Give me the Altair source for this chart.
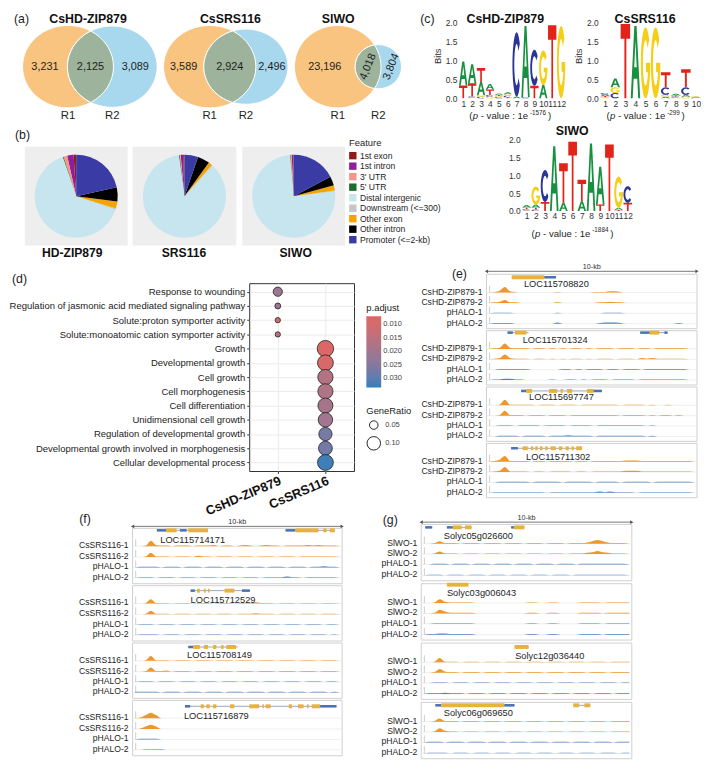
import math
import altair as alt
import pandas as pd

FONT = "Liberation Sans"
INK = "#1e1e1e"
DUMMY = pd.DataFrame({"k": [0]})

# ============================== DATA ==============================
# (a) Venn diagrams: peaks only in R1, shared, only in R2
VENN_TITLES = ["CsHD-ZIP879", "CsSRS116", "SlWO"]
VENN_ONLY_R1 = [3231, 3589, 23196]
VENN_SHARED = [2125, 2924, 4018]
VENN_ONLY_R2 = [3089, 2496, 3804]
VENN_SETS = ["R1", "R2"]
VENN_COLORS = ["#f8c47f", "#a8d8ee", "#9db39b"]

# (b) peak annotation (percent of peaks)
FEATURES = ["1st exon", "1st intron", "3' UTR", "5' UTR", "Distal intergenic",
            "Downstream (<=300)", "Other exon", "Other intron", "Promoter (<=2-kb)"]
FEATURE_COLORS = ["#8b1c1c", "#8d1e9c", "#f4968c", "#1c6d2f", "#c7e5ef",
                  "#c6c6c6", "#f5a300", "#000000", "#3b3ba6"]
PIE_TITLES = ["HD-ZIP879", "SRS116", "SlWO"]
PIE_HDZIP879 = [1.0, 2.5, 1.5, 0.3, 64.5, 0.4, 2.8, 5.5, 21.5]
PIE_SRS116 = [0.5, 1.0, 0.4, 0.3, 86.0, 0.3, 1.5, 4.7, 5.3]
PIE_SLWO = [0.2, 0.6, 0.5, 0.2, 75.4, 0.3, 2.0, 3.6, 17.2]

# (c) motif logos, information (bits) per base and position
LOGO1_A = [0.63, 0.50, 0.35, 0.15, 0.04, 0.05, 0.04, 1.88, 0.00, 0.35, 0.00, 0.00]
LOGO1_C = [0.00, 0.03, 0.04, 0.05, 0.03, 0.04, 1.70, 0.03, 0.95, 0.00, 0.00, 0.00]
LOGO1_G = [0.00, 0.02, 0.04, 0.04, 0.03, 0.04, 0.00, 0.00, 0.00, 0.91, 0.00, 1.91]
LOGO1_T = [0.34, 0.35, 0.37, 0.14, 0.03, 0.03, 0.00, 0.00, 0.33, 0.00, 1.93, 0.00]
LOGO2_A = [0.04, 0.23, 0.00, 1.91, 0.00, 0.00, 0.04, 0.04, 0.05, 0.02]
LOGO2_C = [0.04, 0.14, 0.00, 0.00, 0.00, 0.00, 0.20, 0.03, 0.20, 0.01]
LOGO2_G = [0.03, 0.15, 0.00, 0.00, 1.87, 1.87, 0.05, 0.02, 0.04, 0.02]
LOGO2_T = [0.03, 0.00, 1.96, 0.00, 0.00, 0.00, 0.40, 0.03, 0.48, 0.01]
LOGO3_A = [0.07, 0.08, 0.00, 1.80, 0.23, 0.00, 0.27, 1.88, 1.05, 0.00, 0.06, 0.00]
LOGO3_C = [0.03, 0.04, 0.89, 0.00, 0.00, 0.00, 0.00, 0.00, 0.00, 0.00, 0.00, 0.46]
LOGO3_G = [0.02, 0.50, 0.00, 0.00, 0.00, 0.00, 0.00, 0.00, 0.00, 0.00, 0.87, 0.00]
LOGO3_T = [0.05, 0.06, 0.25, 0.00, 1.10, 1.93, 0.60, 0.00, 0.18, 1.85, 0.03, 0.23]
LOGO_TITLES = ["CsHD-ZIP879", "CsSRS116", "SlWO"]
LOGO_P_EXP = ["-1576", "-299", "-1884"]
LETTER_COLORS = {"A": "#17913f", "C": "#2b3597", "G": "#f5cf15", "T": "#e2231a"}

# (d) GO enrichment
GO_TERMS = ["Response to wounding",
            "Regulation of jasmonic acid mediated signaling pathway",
            "Solute:proton symporter activity",
            "Solute:monoatomic cation symporter activity",
            "Growth", "Developmental growth", "Cell growth", "Cell morphogenesis",
            "Cell differentiation", "Unidimensional cell growth",
            "Regulation of developmental growth",
            "Developmental growth involved in morphogenesis",
            "Cellular developmental process"]
GO_GROUPS = ["CsHD-ZIP879", "CsSRS116"]
GO_GROUP = ["CsHD-ZIP879"] * 4 + ["CsSRS116"] * 9
GO_GENE_RATIO = [0.056, 0.033, 0.030, 0.030, 0.140, 0.131, 0.123, 0.122,
                 0.120, 0.112, 0.097, 0.104, 0.131]
GO_PADJ = [0.0210, 0.0215, 0.0105, 0.0160, 0.0078, 0.0088, 0.0165, 0.0175,
           0.0190, 0.0200, 0.0270, 0.0275, 0.0325]
PADJ_TICKS = [0.010, 0.015, 0.020, 0.025, 0.030]
RATIO_TICKS = [0.05, 0.10]

# (e)-(g) genome browser views (10-kb windows)
TRACKS_E = ["CsHD-ZIP879-1", "CsHD-ZIP879-2", "pHALO-1", "pHALO-2"]
TRACKS_F = ["CsSRS116-1", "CsSRS116-2", "pHALO-1", "pHALO-2"]
TRACKS_G = ["SlWO-1", "SlWO-2", "pHALO-1", "pHALO-2"]

GENES_E = [
    [(1.20, 3.30, [(1.20, 2.75, "cds"), (2.75, 3.30, "utr")])],
    [(1.00, 2.00, [(1.00, 1.25, "utr"), (1.35, 1.90, "cds")]),
     (7.30, 8.60, [(7.30, 7.75, "utr"), (7.75, 8.20, "cds"), (8.45, 8.60, "utr")])],
    [(1.64, 5.48, [(1.64, 1.88, "utr"), (1.88, 2.16, "cds"), (2.97, 3.36, "cds"),
                   (3.52, 3.63, "cds"), (3.83, 4.07, "cds"), (4.77, 5.09, "cds"),
                   (5.09, 5.48, "utr")])],
    [(1.17, 4.54, [(1.17, 1.49, "utr"), (1.72, 1.96, "cds"), (2.11, 2.22, "cds"),
                   (2.32, 2.43, "cds"), (2.54, 2.66, "cds"), (2.79, 2.90, "cds"),
                   (3.05, 3.29, "cds"), (3.44, 3.60, "cds"), (3.76, 3.91, "cds"),
                   (4.04, 4.15, "cds"), (4.26, 4.54, "cds")])],
]
GENE_LABELS_E = [("LOC115708820", 1.78), ("LOC115701324", 1.72),
                 ("LOC115697747", 2.02), ("LOC115711302", 1.88)]

GENES_F = [
    [(1.16, 3.60, [(1.16, 1.60, "utr"), (1.60, 2.10, "cds"), (2.26, 2.58, "utr"), (2.66, 3.60, "cds")]),
     (7.30, 9.65, [(7.30, 7.77, "utr"), (7.77, 8.87, "cds"), (9.10, 9.26, "cds"), (9.41, 9.65, "cds")])],
    [(2.77, 5.60, [(2.77, 2.97, "utr"), (3.08, 3.21, "cds"), (3.40, 3.49, "cds"),
                   (3.60, 3.68, "cds"), (4.39, 4.86, "cds"), (5.22, 5.60, "utr")])],
    [(2.66, 5.02, [(2.66, 2.89, "utr"), (2.89, 3.21, "cds"), (3.40, 3.60, "cds"),
                   (3.84, 4.00, "cds"), (4.23, 4.34, "cds"), (4.47, 4.94, "cds")])],
    [(2.50, 9.73, [(2.50, 2.75, "utr"), (3.25, 3.40, "cds"), (3.52, 3.68, "cds"),
                   (3.84, 4.00, "cds"), (4.65, 4.86, "cds"), (5.57, 6.04, "cds"),
                   (6.20, 6.27, "cds"), (6.35, 6.59, "cds"), (7.45, 7.61, "cds"),
                   (7.89, 8.16, "cds"), (8.32, 8.40, "cds"), (8.55, 8.95, "cds"),
                   (8.95, 9.73, "utr")])],
]
GENE_LABELS_F = [("LOC115714171", 1.32), ("LOC115712529", 2.77),
                 ("LOC115708149", 2.60), ("LOC115716879", 2.45)]

GENES_G = [
    [(0.19, 0.52, [(0.19, 0.52, "utr")]),
     (1.22, 2.39, [(1.22, 1.50, "utr"), (1.50, 1.92, "cds"), (2.08, 2.39, "cds")]),
     (4.27, 4.90, [(4.27, 4.40, "utr"), (4.40, 4.90, "cds")])],
    [(1.22, 2.24, [(1.22, 2.24, "cds")])],
    [(4.43, 5.10, [(4.43, 5.10, "cds")])],
    [(0.67, 4.43, [(0.67, 0.95, "utr"), (0.95, 3.95, "cds"), (3.95, 4.43, "utr")]),
     (7.22, 8.03, [(7.22, 7.50, "cds"), (7.75, 8.03, "cds")])],
]
GENE_LABELS_G = [("Solyc05g026600", 1.07), ("Solyc03g006043", 1.22),
                 ("Solyc12g036440", 4.46), ("Solyc06g069650", 1.07)]

# coverage level per 0.25-kb bin (0-9), one string per track
SIGNAL_E = [
    ["0139210000000100000011122100000000000000",
     "0125110000000100000001121100000000000000",
     "0111100000000100000000111100000000000000",
     "0111100000000200000001222100000000001000"],
    ["0129211101101010110101110111011011111100",
     "0128211101101010110101110111021211111100",
     "0011111100000011010111011011101111111100",
     "0112211000001001101011101111011111111100"],
    ["0019111110111011101111111011110100100000",
     "0018111011101110111111111011110101101000",
     "0011101111011110111101111111110100000000",
     "0011110111101112111101111111110100000000"],
    ["0139111101101111011011111122211111111110",
     "0128111101101111011011111122211111111110",
     "0011111101111101111101111011111011111110",
     "0111111111101111111112121111011111111110"],
]
SIGNAL_F = [
    ["0019211011101112011012101211011112121110",
     "0017111011102110111011101110111011111110",
     "0111101110111011101110111011101110112110",
     "0111011101110111011101110111121101111110"],
    ["0017111011101110111011121110111011101110",
     "0016111011101110111011121110111011101110",
     "0111011101110111011101110111011101110110",
     "0111101110111011101110111011101110111010"],
    ["0018111011101110111011101110111011101110",
     "0017112011101110111011101110111011101110",
     "0111011101110111011101110111011101110110",
     "1111101110111011101110111011101110111010"],
    ["0159500000000000000000000000000000000000",
     "0147400000000000000000000000000000000000",
     "0111100000000000000000000000000000000000",
     "0011110000000000000000000000000000000000"],
]
SIGNAL_G = [
    ["0014111011101110111011101110111246421110",
     "0014111011101110111011101110111235321110",
     "0011101110111011101110111011101111111110",
     "0111011101110111011101110111011111111110"],
    ["0016211111000000000011001100001111011111",
     "0016311111000000000011001100001111011111",
     "0011111111000000000011001100001111011111",
     "0112211111000000000011001100001111011111"],
    ["0017111011101110111011101110111011101111",
     "0016211011101110111011101110111011101111",
     "0011101110111011101110111011101110111011",
     "0111211101110111011101110111011101110111"],
    ["0015111011101110111011101110111011101111",
     "0016211011101110111011101110111011101111",
     "0111011101110111011101110111011101110111",
     "0111101110111011101110111011101110111011"],
]

# ============================== LAYOUT GRID ==============================
# column left edges (page px); every panel is anchored at one of them
COL_EDGES = [8, 23, 132, 250, 462, 526, 605, 707]
COL_W = [COL_EDGES[i + 1] - COL_EDGES[i] for i in range(len(COL_EDGES) - 1)]
ROW_H = [122, 151, 231, 246]

# ============================== HELPERS ==============================
def T(s, x, y, fs, weight="normal", style="normal", align="center",
      baseline="middle", color=INK, angle=0):
    kw = dict(fontSize=fs, fontWeight=weight, fontStyle=style, align=align,
              baseline=baseline, color=color, font=FONT)
    if angle:
        kw["angle"] = angle
    return alt.Chart(DUMMY).mark_text(**kw).encode(
        x=alt.value(x), y=alt.value(y), text=alt.value(s))


def SP(w, h):
    return alt.Chart(DUMMY).mark_point(opacity=0, size=1).encode(
        x=alt.value(0), y=alt.value(0)).properties(width=w, height=h)


ARIAL_W = {"(": 333, ")": 333, "p": 556, " ": 278, "-": 333, "v": 500,
           "a": 556, "l": 222, "u": 556, "e": 556, ":": 278}


def tw(s, fs):
    return sum(ARIAL_W.get(c, 556) for c in s) * fs / 1000.0


def pvalue_marks(cx, cy, exp, fs=9.7):
    sfs = fs * 0.66
    parts = [("(", "normal", fs, 0.0, 0.3),
             ("p", "italic", fs, 0.0, tw(" ", fs)),
             ("- value : 1e", "normal", fs, 0.0, 1.8),
             (exp, "normal", sfs, -3.6, 1.8),
             (")", "normal", fs, 0.0, 0.0)]
    total = sum(tw(t, f) + g for t, _, f, _, g in parts)
    x = cx - total / 2
    out = []
    for t, st, f, dy, g in parts:
        out.append(T(t, x, cy + dy, f, style=st, align="left"))
        x += tw(t, f) + g
    return out


def arc_pts(cx, cy, rx, ry, a0, a1, step=10):
    n = max(1, int(abs(a1 - a0) / step))
    pts = []
    for j in range(n + 1):
        a = math.radians(a0 + (a1 - a0) * j / n)
        pts.append((cx + rx * math.cos(a), cy + ry * math.sin(a)))
    return pts


GLYPHS = {
    "T": [[(0, 1), (1, 1), (1, 0.8), (0.6, 0.8), (0.6, 0), (0.4, 0), (0.4, 0.8), (0, 0.8)]],
    "A": [[(0, 0), (0.38, 1), (0.62, 1), (1, 0), (0.79, 0), (0.69, 0.27), (0.31, 0.27), (0.21, 0)],
          [(0.37, 0.43), (0.63, 0.43), (0.5, 0.8)]],
    "C": [arc_pts(0.5, 0.5, 0.5, 0.5, 40, 320) + arc_pts(0.5, 0.5, 0.28, 0.32, 320, 40)],
    "G": [arc_pts(0.5, 0.5, 0.5, 0.5, 40, 360) + [(0.55, 0.5), (0.55, 0.37)]
          + arc_pts(0.5, 0.5, 0.28, 0.32, 335, 40)],
}


def glyph_path(letter, w, h):
    D = max(w, h)
    parts = []
    for poly in GLYPHS[letter]:
        pts = [((u - 0.5) * w * 2 / D, -(v - 0.5) * h * 2 / D) for u, v in poly]
        parts.append("M" + "L".join(f"{x:.3f},{y:.3f}" for x, y in pts) + "Z")
    return "".join(parts), D * D


def lens_area(r1, r2, d):
    if d >= r1 + r2:
        return 0.0
    if d <= abs(r1 - r2):
        return math.pi * min(r1, r2) ** 2
    a1 = math.acos((d * d + r1 * r1 - r2 * r2) / (2 * d * r1))
    a2 = math.acos((d * d + r2 * r2 - r1 * r1) / (2 * d * r2))
    return (r1 * r1 * a1 + r2 * r2 * a2
            - 0.5 * math.sqrt((-d + r1 + r2) * (d + r1 - r2) * (d - r1 + r2) * (d + r1 + r2)))


def solve_d(r1, r2, target):
    lo, hi = abs(r1 - r2), r1 + r2
    for _ in range(80):
        mid = (lo + hi) / 2
        if lens_area(r1, r2, mid) > target:
            lo = mid
        else:
            hi = mid
    return (lo + hi) / 2


def ellipse_path(r, k):
    return (f"M{-r:.4f},0A{r:.4f},{r*k:.4f} 0 1,0 {r:.4f},0"
            f"A{r:.4f},{r*k:.4f} 0 1,0 {-r:.4f},0Z")


# ============================== PANEL (a) ==============================
VENN_SY = 41.7
VENN_H = ROW_H[0]
VENN_CY = 54
VENN_RY = (VENN_CY - 104) / VENN_SY
# (grid column, circle-1 centre page x, px per unit in x, title centre page x)
VENN_LAYOUT = [(0, 66.7, 46.0, 87), (2, 210.0, 46.7, 231), (3, 339.5, 43.8, 340)]


def venn_view(i):
    col, cx_page, sx, title_page = VENN_LAYOUT[i]
    origin, w = COL_EDGES[col], COL_W[col]
    cxp = cx_page - origin
    only1, shared, only2 = VENN_ONLY_R1[i], VENN_SHARED[i], VENN_ONLY_R2[i]
    n1, n2 = only1 + shared, only2 + shared
    r2 = math.sqrt(n2 / n1)
    d = solve_d(1.0, r2, math.pi * shared / n1)
    k = VENN_SY / sx
    xi = (d * d + 1 - r2 * r2) / (2 * d)
    hh = math.sqrt(max(0.0, 1 - xi * xi))
    lens = (f"M{xi:.4f},{-hh*k:.4f}A{r2:.4f},{r2*k:.4f} 0 0,0 {xi:.4f},{hh*k:.4f}"
            f"A1,{k:.4f} 0 0,0 {xi:.4f},{-hh*k:.4f}Z")
    shp = pd.DataFrame({"x": [0.0, d, 0.0], "y": [0.0, 0.0, 0.0],
                        "path": [ellipse_path(1.0, k), ellipse_path(r2, k), lens],
                        "col": VENN_COLORS, "z": [0, 1, 2]})
    xs = alt.Scale(domain=[-cxp / sx, (w - cxp) / sx], nice=False, zero=False)
    ys = alt.Scale(domain=[-(VENN_H - VENN_CY) / VENN_SY, VENN_CY / VENN_SY], nice=False, zero=False)
    X = alt.X("x:Q", scale=xs, axis=None)
    Y = alt.Y("y:Q", scale=ys, axis=None)
    layers = [alt.Chart(shp).mark_point(filled=True, opacity=1, size=(2 * sx) ** 2,
                                        stroke="white", strokeWidth=1).encode(
        x=X, y=Y, shape=alt.Shape("path:N", scale=None),
        color=alt.Color("col:N", scale=None), order=alt.Order("z:Q"))]
    xo1 = (-1 + (d - r2)) / 2
    xsh = ((d - r2) + 1) / 2
    xo2 = (1 + d + r2) / 2
    nums = pd.DataFrame({"x": [xo1, xsh, xo2], "y": [0.0, 0.0, 0.0],
                         "t": [f"{only1:,}", f"{shared:,}", f"{only2:,}"]})
    if i == 2:
        flat, rot = nums.iloc[:1], nums.iloc[1:]
    else:
        flat, rot = nums, None
    layers.append(alt.Chart(flat).mark_text(fontSize=11, color=INK, font=FONT).encode(
        x=X, y=Y, text="t:N"))
    if rot is not None:
        layers.append(alt.Chart(rot).mark_text(fontSize=11, color=INK, font=FONT, angle=292).encode(
            x=X, y=Y, text="t:N"))
    sets = pd.DataFrame({"x": [0.0, d], "y": [VENN_RY, VENN_RY], "t": VENN_SETS})
    layers.append(alt.Chart(sets).mark_text(fontSize=11.5, color=INK, font=FONT).encode(
        x=X, y=Y, text="t:N"))
    layers.append(T(VENN_TITLES[i], title_page - origin, 0, 12.5, weight="bold",
                    baseline="top", color="#111"))
    if i == 0:
        layers.append(T("(a)", 12 - origin, 0, 12.5, align="left", baseline="top"))
    return alt.layer(*layers).properties(width=w, height=VENN_H)


# ============================== PANEL (c) ==============================
def logo_view(A, C, G, TT, step, ppb, height, decl_w, bits_title, extras):
    rows = []
    for i in range(len(A)):
        stack = sorted([(A[i], "A"), (C[i], "C"), (G[i], "G"), (TT[i], "T")])
        cum = 0.0
        for hgt, letter in stack:
            if hgt <= 0:
                continue
            path, size = glyph_path(letter, step * 0.94, hgt * ppb)
            rows.append({"pos": i + 1, "ymid": cum + hgt / 2, "path": path,
                         "size": size, "col": LETTER_COLORS[letter]})
            cum += hgt
    df = pd.DataFrame(rows)
    yax = dict(values=[0, 0.5, 1, 1.5, 2], format=".1f", ticks=False, domain=False,
               grid=False, labelFontSize=8.5, labelPadding=2, labelColor="#333",
               titleFontSize=9.5, titleFontWeight="normal", titlePadding=3,
               titleColor="#333", title=bits_title)
    letters = alt.Chart(df).mark_point(filled=True, opacity=1, strokeWidth=0).encode(
        x=alt.X("pos:O", scale=alt.Scale(range=[0, step * len(A)]),
                axis=alt.Axis(title=None, labelAngle=0, ticks=False, domain=False,
                              labelFontSize=8.5, labelPadding=1, labelColor="#333",
                              labelOverlap=False)),
        y=alt.Y("ymid:Q", scale=alt.Scale(domain=[0, height / ppb], nice=False, zero=False),
                axis=alt.Axis(**yax)),
        shape=alt.Shape("path:N", scale=None),
        size=alt.Size("size:Q", scale=None),
        color=alt.Color("col:N", scale=None))
    return alt.layer(letters, *extras).properties(width=decl_w, height=height)


logo1 = logo_view(LOGO1_A, LOGO1_C, LOGO1_G, LOGO1_T, 9.0, 38.35, 86, COL_W[4], "Bits",
                  [T(LOGO_TITLES[0], 47, 0, 12.5, weight="bold", baseline="top", color="#111"),
                   T("(c)", -39, 0, 12.5, align="left", baseline="top")]
                  + pvalue_marks(52, 104, LOGO_P_EXP[0]))
logo2 = logo_view(LOGO2_A, LOGO2_C, LOGO2_G, LOGO2_T, 10.2, 38.35, 86, COL_W[6], "Bits",
                  [T(LOGO_TITLES[1], 45.5, 0, 12.5, weight="bold", baseline="top", color="#111")]
                  + pvalue_marks(46, 104, LOGO_P_EXP[1]))
logo3 = logo_view(LOGO3_A, LOGO3_C, LOGO3_G, LOGO3_T, 9.3, 36.35, 78, COL_W[5], None,
                  [T(LOGO_TITLES[2], 50.7, -3, 12.5, weight="bold", color="#111")]
                  + pvalue_marks(51, 101, LOGO_P_EXP[2]))


# ============================== PANEL (b) ==============================
def pie_view(values, col, panel_left, panel_w, title, title_page, extra=()):
    origin = COL_EDGES[col]
    off = panel_left - origin
    df = pd.DataFrame({"feature": FEATURES, "val": values,
                       "rank": [len(FEATURES) - 1 - j for j in range(len(FEATURES))]})
    bg = alt.Chart(DUMMY).mark_rect(color="#eeeeee").encode(
        x=alt.value(off), x2=alt.value(off + panel_w), y=alt.value(13), y2=alt.value(113))
    arc = alt.Chart(df).mark_arc(radius=42).encode(
        theta=alt.Theta("val:Q", stack=True),
        color=alt.Color("feature:N", scale=alt.Scale(domain=FEATURES, range=FEATURE_COLORS), legend=None),
        order=alt.Order("rank:Q", sort="ascending"),
        x=alt.value(off + panel_w / 2), y=alt.value(63))
    ttl = T(title, title_page - origin, 121, 12.3, weight="bold", color="#111")
    return alt.layer(bg, arc, ttl, *extra).properties(width=COL_W[col], height=113)


pie1 = pie_view(PIE_HDZIP879, 0, 23, 104, PIE_TITLES[0], 71,
                [T("(b)", 13 - COL_EDGES[0], 1, 12.5, align="left")])
pie2 = pie_view(PIE_SRS116, 1, 132, 105, PIE_TITLES[1], 184)
pie3 = pie_view(PIE_SLWO, 2, 243, 104, PIE_TITLES[2], 297)

LEG_OFF = 351 - COL_EDGES[3]
leg_df = pd.DataFrame({"feature": FEATURES, "col": FEATURE_COLORS})
leg_y = alt.Y("feature:N", sort=FEATURES, axis=None,
              scale=alt.Scale(range=[22, 107], padding=0))
legend_b = alt.layer(
    alt.Chart(leg_df).mark_square(size=56, opacity=1).encode(
        x=alt.value(LEG_OFF + 3.8), y=leg_y, color=alt.Color("col:N", scale=None)),
    alt.Chart(leg_df).mark_text(align="left", baseline="middle", fontSize=8.7,
                                color=INK, font=FONT).encode(
        x=alt.value(LEG_OFF + 11), y=leg_y, text="feature:N"),
    T("Feature", LEG_OFF, 9.3, 9.5, align="left"),
).properties(width=COL_W[3], height=113)

# ============================== PANEL (d) ==============================
go_df = pd.DataFrame({"term": GO_TERMS, "group": GO_GROUP,
                      "ratio": GO_GENE_RATIO, "padj": GO_PADJ})
go_df["npadj"] = -go_df["padj"]   # low p.adjust on top of the colour bar
dots = alt.Chart(go_df).mark_circle(opacity=1, stroke="#222222", strokeWidth=0.8).encode(
    x=alt.X("group:N", sort=GO_GROUPS, scale=alt.Scale(padding=0.6),
            axis=alt.Axis(title=None, labelAngle=337, labelAlign="right", labelBaseline="top",
                          labelFontSize=13, labelFontWeight="bold", labelColor="#111",
                          tickColor="#333", tickSize=2.5, domain=False, grid=True,
                          gridColor="#ebebeb", labelPadding=1)),
    y=alt.Y("term:N", sort=GO_TERMS, scale=alt.Scale(padding=0.6),
            axis=alt.Axis(title=None, labelFontSize=9.6, labelColor="#222", labelLimit=400,
                          tickColor="#333", tickSize=2.5, domain=False, grid=True,
                          gridColor="#ebebeb", labelPadding=2)),
    color=alt.Color("npadj:Q",
                    scale=alt.Scale(domain=[-0.0333, -0.0071], range=["#327eba", "#e06663"],
                                    interpolate="lab"),
                    legend=alt.Legend(title="p.adjust", orient="none", legendX=118.5, legendY=20,
                                      direction="vertical", gradientLength=72,
                                      gradientThickness=15, values=[-v for v in PADJ_TICKS],
                                      labelExpr="format(-datum.value, '.3f')",
                                      titleFontSize=9.5, titleFontWeight="normal",
                                      labelFontSize=7.6, labelColor="#444", titlePadding=4,
                                      titleColor="#222")),
    size=alt.Size("ratio:Q", scale=alt.Scale(domain=[0.03, 0.14], range=[29, 276]),
                  legend=alt.Legend(title="GeneRatio", orient="none", legendX=118.5, legendY=124,
                                    values=RATIO_TICKS, format=".2f", symbolFillColor="white",
                                    symbolStrokeColor="#222", symbolStrokeWidth=1,
                                    titleFontSize=9.5, titleFontWeight="normal",
                                    labelFontSize=7.6, labelColor="#444", titleColor="#222")),
)
dot_view = alt.layer(dots, T("(d)", 10 - COL_EDGES[3], -4, 12.5, align="left")).properties(
    width=106, height=190, view=alt.ViewBackground(stroke="#333333", strokeWidth=1))

# ============================== PANELS (e)-(g) ==============================
TRACK_LAYOUT = {
    "e": dict(col=4, box_left=490, ppk=21.3, h=ROW_H[2], box_tops=[-9, 48, 105, 162], box_h=55,
              track_dy=[18.5, 29, 39.5, 50], gene_dy=[3, 2, 4, 5], label_dy=[10, 10, 10, 14],
              ruler_y=-12, letter=("(e)", 455, -9)),
    "f": dict(col=2, box_left=132, ppk=21.2, h=ROW_H[3], box_tops=[17, 75, 133, 191], box_h=56,
              track_dy=[18, 29, 39.5, 50], gene_dy=[2, 5, 4, 6], label_dy=[12, 15, 12, 16],
              ruler_y=15, letter=("(f)", 78, 8)),
    "g": dict(col=3, box_left=424, ppk=21.3, h=ROW_H[3], box_tops=[13, 73, 133, 193], box_h=57,
              track_dy=[19.5, 30, 40.5, 51.5], gene_dy=[3, 1, 4, 3], label_dy=[12, 9, 13, 11],
              ruler_y=10.7, letter=("(g)", 385, 9)),
}
BIN_KB = 0.25
LEVEL_PX = 0.62
ORANGE = "#f0962a"
BLUE = "#4f82c0"
GENE_COLORS = {"cds": "#e6b43c", "utr": "#4a73b5"}


def tracks_view(key, names, genes, labels, signals):
    L = TRACK_LAYOUT[key]
    origin, W = COL_EDGES[L["col"]], COL_W[L["col"]]
    H = L["h"]
    off = L["box_left"] - origin
    ppk = L["ppk"]
    xs = alt.Scale(domain=[-off / ppk, (W - off) / ppk], nice=False, zero=False)
    ys = alt.Scale(domain=[0, H], reverse=True, nice=False, zero=False)

    def X(f):
        return alt.X(f, scale=xs, axis=None)

    def Y(f):
        return alt.Y(f, scale=ys, axis=None)

    box_rows, base_rows, brk_rows, sig_rows = [], [], [], []
    line_rows, blk_rows, lab_rows, name_rows = [], [], [], []
    for b in range(4):
        top = L["box_tops"][b]
        box_rows.append({"x0": 0, "x1": 10, "y0": top, "y1": top + L["box_h"]})
        gy = top + L["gene_dy"][b]
        for gs, ge, blocks in genes[b]:
            line_rows.append({"s": gs, "e": ge, "y": gy})
            for s, e, kind in blocks:
                hh = 2.0 if kind == "cds" else 1.3
                blk_rows.append({"s": s, "e": e, "y0": gy - hh, "y1": gy + hh,
                                 "col": GENE_COLORS[kind]})
        name, kb = labels[b]
        lab_rows.append({"kb": kb, "y": top + L["label_dy"][b], "name": name})
        for t in range(4):
            base = top + L["track_dy"][t]
            tid = f"{b}-{t}"
            base_rows.append({"x0": 0, "x1": 10, "y": base})
            brk_rows.append({"x": 0.15, "y0": base - 7, "y1": base})
            name_rows.append({"x": 0, "y": base - 1, "name": names[t]})
            col = ORANGE if t < 2 else BLUE
            for j, ch in enumerate(signals[b][t]):
                lvl = int(ch)
                sig_rows.append({"kb": (j + 0.5) * BIN_KB, "top": base - lvl * LEVEL_PX,
                                 "base": base, "tid": tid, "col": col})
    ry = L["ruler_y"]
    layers = [
        alt.Chart(pd.DataFrame(box_rows)).mark_rect(fillOpacity=0, stroke="#cfcfcf", strokeWidth=1).encode(
            x=X("x0:Q"), x2="x1:Q", y=Y("y0:Q"), y2="y1:Q"),
        alt.Chart(pd.DataFrame(base_rows)).mark_rule(color="#ebebeb", strokeWidth=0.8).encode(
            x=X("x0:Q"), x2="x1:Q", y=Y("y:Q")),
        alt.Chart(pd.DataFrame(brk_rows)).mark_rule(color="#b8b8b8", strokeWidth=0.7).encode(
            x=X("x:Q"), y=Y("y0:Q"), y2="y1:Q"),
        alt.Chart(pd.DataFrame(sig_rows)).mark_area(interpolate="monotone", opacity=1).encode(
            x=X("kb:Q"), y=alt.Y("top:Q", scale=ys, axis=None, stack=None), y2="base:Q",
            detail="tid:N", color=alt.Color("col:N", scale=None)),
        alt.Chart(pd.DataFrame(line_rows)).mark_rule(color="#7d8fb3", strokeWidth=0.8).encode(
            x=X("s:Q"), x2="e:Q", y=Y("y:Q")),
        alt.Chart(pd.DataFrame(blk_rows)).mark_rect(opacity=1).encode(
            x=X("s:Q"), x2="e:Q", y=Y("y0:Q"), y2="y1:Q", color=alt.Color("col:N", scale=None)),
        alt.Chart(pd.DataFrame(lab_rows)).mark_text(align="left", baseline="middle", fontSize=9.4,
                                                    color=INK, font=FONT).encode(
            x=X("kb:Q"), y=Y("y:Q"), text="name:N"),
        alt.Chart(pd.DataFrame(name_rows)).mark_text(align="right", baseline="middle", fontSize=8.7,
                                                     dx=-4, color=INK, font=FONT).encode(
            x=X("x:Q"), y=Y("y:Q"), text="name:N"),
        alt.Chart(pd.DataFrame({"x0": [0], "x1": [10], "y": [ry]})).mark_rule(
            color="#555555", strokeWidth=0.8).encode(x=X("x0:Q"), x2="x1:Q", y=Y("y:Q")),
        alt.Chart(pd.DataFrame({"x": [0, 10], "y": [ry, ry],
                                "shp": ["triangle-left", "triangle-right"]})).mark_point(
            filled=True, opacity=1, size=14, color="#555555").encode(
            x=X("x:Q"), y=Y("y:Q"), shape=alt.Shape("shp:N", scale=None)),
        alt.Chart(pd.DataFrame({"x": [5], "y": [ry - 4.5], "t": ["10-kb"]})).mark_text(
            fontSize=7.3, color="#333333", font=FONT).encode(x=X("x:Q"), y=Y("y:Q"), text="t:N"),
    ]
    lt, lx, ly = L["letter"]
    layers.append(T(lt, lx - origin, ly, 12.5, align="left"))
    return alt.layer(*layers).properties(width=W, height=H)


e_view = tracks_view("e", TRACKS_E, GENES_E, GENE_LABELS_E, SIGNAL_E)
f_view = tracks_view("f", TRACKS_F, GENES_F, GENE_LABELS_F, SIGNAL_F)
g_view = tracks_view("g", TRACKS_G, GENES_G, GENE_LABELS_G, SIGNAL_G)

# ============================== ASSEMBLY ==============================
rows = [
    [venn_view(0), SP(COL_W[1], 1), venn_view(1), venn_view(2), logo1, SP(COL_W[5], 1), logo2],
    [pie1, pie2, pie3, legend_b, SP(1, ROW_H[1]), logo3, SP(1, 1)],
    [SP(1, ROW_H[2]), SP(1, 1), SP(1, 1), dot_view, e_view, SP(1, 1), SP(1, 1)],
    [SP(1, ROW_H[3]), SP(1, 1), f_view, g_view, SP(1, 1), SP(1, 1), SP(1, 1)],
]
flat = [c for r in rows for c in r]

chart = alt.concat(
    *flat, columns=len(COL_W), spacing=0, bounds="flush", align="each",
).resolve_scale(
    color="independent", size="independent", shape="independent",
    x="independent", y="independent", theta="independent",
).resolve_legend(
    color="independent", size="independent",
).properties(
    padding=0, background="white",
).configure(
    font=FONT,
).configure_view(
    stroke=None,
).configure_axis(
    labelFont=FONT, titleFont=FONT,
).configure_legend(
    labelFont=FONT, titleFont=FONT,
)

chart.save("out.html", embed_options={"renderer": "svg", "actions": False})
